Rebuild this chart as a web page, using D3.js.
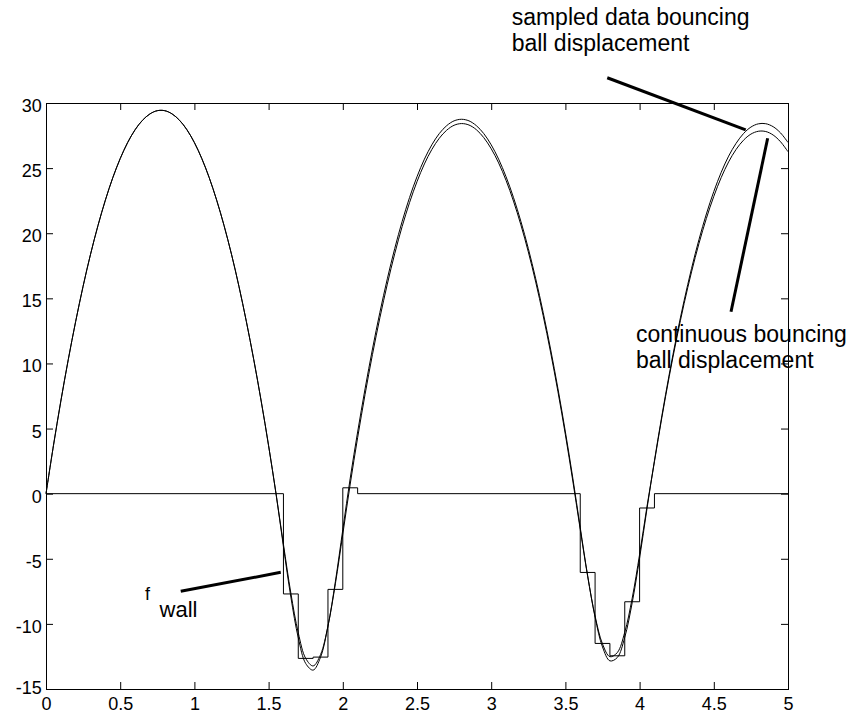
<!DOCTYPE html>
<html>
<head>
<meta charset="utf-8">
<script src="https://cdn.jsdelivr.net/npm/d3@7"></script>
<style>
  html, body { margin: 0; background: #fff; }
  svg text { font-family: "Liberation Sans", Arial, Helvetica, sans-serif; fill: #000; }
</style>
</head>
<body>
<svg id="chart" width="856" height="719"></svg>
<script>
// Time instants (s) for the displacement traces
const time = [
  0, 0.05, 0.1, 0.15, 0.2, 0.25, 0.3, 0.35, 0.4, 0.45,
  0.5, 0.55, 0.6, 0.65, 0.7, 0.75, 0.8, 0.85, 0.9, 0.95,
  1, 1.05, 1.1, 1.15, 1.2, 1.25, 1.3, 1.35, 1.4, 1.45,
  1.5, 1.55, 1.6, 1.65, 1.7, 1.75, 1.8, 1.85, 1.9, 1.95,
  2, 2.05, 2.1, 2.15, 2.2, 2.25, 2.3, 2.35, 2.4, 2.45,
  2.5, 2.55, 2.6, 2.65, 2.7, 2.75, 2.8, 2.85, 2.9, 2.95,
  3, 3.05, 3.1, 3.15, 3.2, 3.25, 3.3, 3.35, 3.4, 3.45,
  3.5, 3.55, 3.6, 3.65, 3.7, 3.75, 3.8, 3.85, 3.9, 3.95,
  4, 4.05, 4.1, 4.15, 4.2, 4.25, 4.3, 4.35, 4.4, 4.45,
  4.5, 4.55, 4.6, 4.65, 4.7, 4.75, 4.8, 4.85, 4.9, 4.95,
  5
];

// Continuous bouncing ball displacement
const dispContinuous = [
  0, 3.68, 7.11, 10.29, 13.23, 15.93, 18.38, 20.58, 22.54, 24.26,
  25.73, 26.96, 27.94, 28.67, 29.16, 29.41, 29.41, 29.16, 28.67, 27.94,
  26.96, 25.73, 24.26, 22.54, 20.58, 18.38, 15.93, 13.23, 10.29, 7.11,
  3.68, 0, -3.89, -7.64, -10.69, -12.65, -13.23, -12.36, -10.16, -6.92,
  -3.11, 0.74, 4.30, 7.62, 10.69, 13.51, 16.09, 18.43, 20.52, 22.36,
  23.96, 25.32, 26.43, 27.29, 27.91, 28.29, 28.42, 28.31, 27.95, 27.34,
  26.49, 25.40, 24.06, 22.47, 20.64, 18.57, 16.25, 13.68, 10.87, 7.82,
  4.52, 0.97, -2.75, -6.34, -9.39, -11.54, -12.52, -12.20, -10.64, -8.03,
  -4.66, -0.96, 2.45, 5.85, 9.01, 11.93, 14.60, 17.03, 19.21, 21.14,
  22.83, 24.28, 25.48, 26.43, 27.14, 27.61, 27.83, 27.81, 27.54, 27.02,
  26.26
];

// Sampled-data bouncing ball displacement
const dispSampled = [
  0, 3.68, 7.11, 10.29, 13.23, 15.93, 18.38, 20.58, 22.54, 24.26,
  25.73, 26.96, 27.94, 28.67, 29.16, 29.41, 29.41, 29.16, 28.67, 27.94,
  26.96, 25.73, 24.26, 22.54, 20.58, 18.38, 15.93, 13.23, 10.29, 7.11,
  3.68, 0, -4.07, -7.94, -11.07, -13.04, -13.55, -12.56, -10.18, -6.75,
  -2.76, 1.19, 4.74, 8.05, 11.11, 13.93, 16.50, 18.83, 20.91, 22.75,
  24.34, 25.69, 26.79, 27.65, 28.26, 28.63, 28.75, 28.63, 28.26, 27.65,
  26.79, 25.69, 24.34, 22.75, 20.91, 18.83, 16.50, 13.93, 11.11, 8.05,
  4.74, 1.19, -2.60, -6.31, -9.50, -11.77, -12.84, -12.58, -11.03, -8.38,
  -4.95, -1.14, 2.54, 5.98, 9.18, 12.13, 14.83, 17.29, 19.51, 21.48,
  23.20, 24.68, 25.92, 26.90, 27.65, 28.15, 28.40, 28.41, 28.18, 27.70,
  26.97
];

// Wall force, held between samples (zero-order hold)
const fwallTime  = [0, 1.6, 1.7, 1.8, 1.9, 2.0, 2.1, 3.6, 3.7, 3.8, 3.9, 4.0, 4.1, 5];
const fwallValue = [0, -7.7, -12.65, -12.55, -7.35, 0.45, 0, -6.05, -11.5, -12.45, -8.3, -1.1, 0, 0];

// Axis ticks
const xTicks = [0, 0.5, 1, 1.5, 2, 2.5, 3, 3.5, 4, 4.5, 5];
const yTicks = [-15, -10, -5, 0, 5, 10, 15, 20, 25, 30];

// Callout labels and their leader lines, in data units
const labels = [
  { text: "sampled data bouncing", x: 3.138, y: 36.0, size: 23 },
  { text: "ball displacement",     x: 3.138, y: 34.03, size: 23 },
  { text: "continuous bouncing",   x: 3.975, y: 11.67, size: 23 },
  { text: "ball displacement",     x: 3.975, y: 9.63, size: 23 },
  { text: "f",                     x: 0.667, y: -8.13, size: 18 },
  { text: "wall",                  x: 0.765, y: -9.45, size: 22 }
];
const leaders = [
  { x1: 3.782, y1: 31.94, x2: 4.715, y2: 27.93 },
  { x1: 4.863, y1: 27.29, x2: 4.616, y2: 13.97 },
  { x1: 0.908, y1: -7.50, x2: 1.582, y2: -6.04 }
];

const svg = d3.select("#chart");
const box = { left: 46, right: 788, top: 103, bottom: 689 };
const tickLen = 7;

const x = d3.scaleLinear().domain([0, 5]).range([box.left, box.right]);
const y = d3.scaleLinear().domain([-15, 30]).range([box.bottom, box.top]);

const fmt = d => String(d);

// Bottom axis with labels, ticks pointing inward
const gx = svg.append("g")
  .attr("transform", `translate(0,${box.bottom})`)
  .call(d3.axisBottom(x).tickValues(xTicks).tickFormat(fmt)
    .tickSizeInner(-tickLen).tickSizeOuter(0).tickPadding(8.6));
gx.selectAll("text").attr("font-size", 18);

// Left axis with labels
const gy = svg.append("g")
  .attr("transform", `translate(${box.left},0)`)
  .call(d3.axisLeft(y).tickValues(yTicks).tickFormat(fmt)
    .tickSizeInner(-tickLen).tickSizeOuter(0).tickPadding(4.3));
gy.selectAll("text")
  .attr("font-size", 18)
  .attr("dy", d => d === -15 ? "4.7px" : "8.5px");

// Top and right axes: ticks only
svg.append("g")
  .attr("transform", `translate(0,${box.top})`)
  .call(d3.axisTop(x).tickValues(xTicks).tickFormat("")
    .tickSizeInner(-tickLen).tickSizeOuter(0));
svg.append("g")
  .attr("transform", `translate(${box.right},0)`)
  .call(d3.axisRight(y).tickValues(yTicks).tickFormat("")
    .tickSizeInner(-tickLen).tickSizeOuter(0));

svg.selectAll(".domain").remove();
svg.selectAll(".tick line").attr("stroke", "#000").attr("stroke-width", 1);
svg.selectAll(".tick text").attr("fill", "#000")
  .attr("font-family", "'Liberation Sans', Arial, Helvetica, sans-serif");

// Plot frame
svg.append("rect")
  .attr("x", box.left + 0.5).attr("y", box.top + 0.5)
  .attr("width", box.right - box.left).attr("height", box.bottom - box.top)
  .attr("fill", "none").attr("stroke", "#000").attr("stroke-width", 1);

const plot = svg.append("g");

// Wall force staircase (also forms the zero line)
const fwall = fwallTime.map((t, i) => [t, fwallValue[i]]);
plot.append("path")
  .datum(fwall)
  .attr("fill", "none").attr("stroke", "#000").attr("stroke-width", 1)
  .attr("d", d3.line().x(d => x(d[0])).y(d => y(d[1])).curve(d3.curveStepAfter));

// Displacement traces
const trace = d3.line().x(d => x(d[0])).y(d => y(d[1])).curve(d3.curveCatmullRom.alpha(0.5));
[dispContinuous, dispSampled].forEach(series => {
  plot.append("path")
    .datum(time.map((t, i) => [t, series[i]]))
    .attr("fill", "none").attr("stroke", "#000").attr("stroke-width", 1)
    .attr("d", trace);
});

// Leader lines
svg.selectAll("line.leader")
  .data(leaders).enter().append("line")
  .attr("class", "leader")
  .attr("x1", d => x(d.x1)).attr("y1", d => y(d.y1))
  .attr("x2", d => x(d.x2)).attr("y2", d => y(d.y2))
  .attr("stroke", "#000").attr("stroke-width", 3);

// Callout text
svg.selectAll("text.callout")
  .data(labels).enter().append("text")
  .attr("class", "callout")
  .attr("x", d => x(d.x)).attr("y", d => y(d.y))
  .attr("font-size", d => d.size)
  .text(d => d.text);
</script>
</body>
</html>
